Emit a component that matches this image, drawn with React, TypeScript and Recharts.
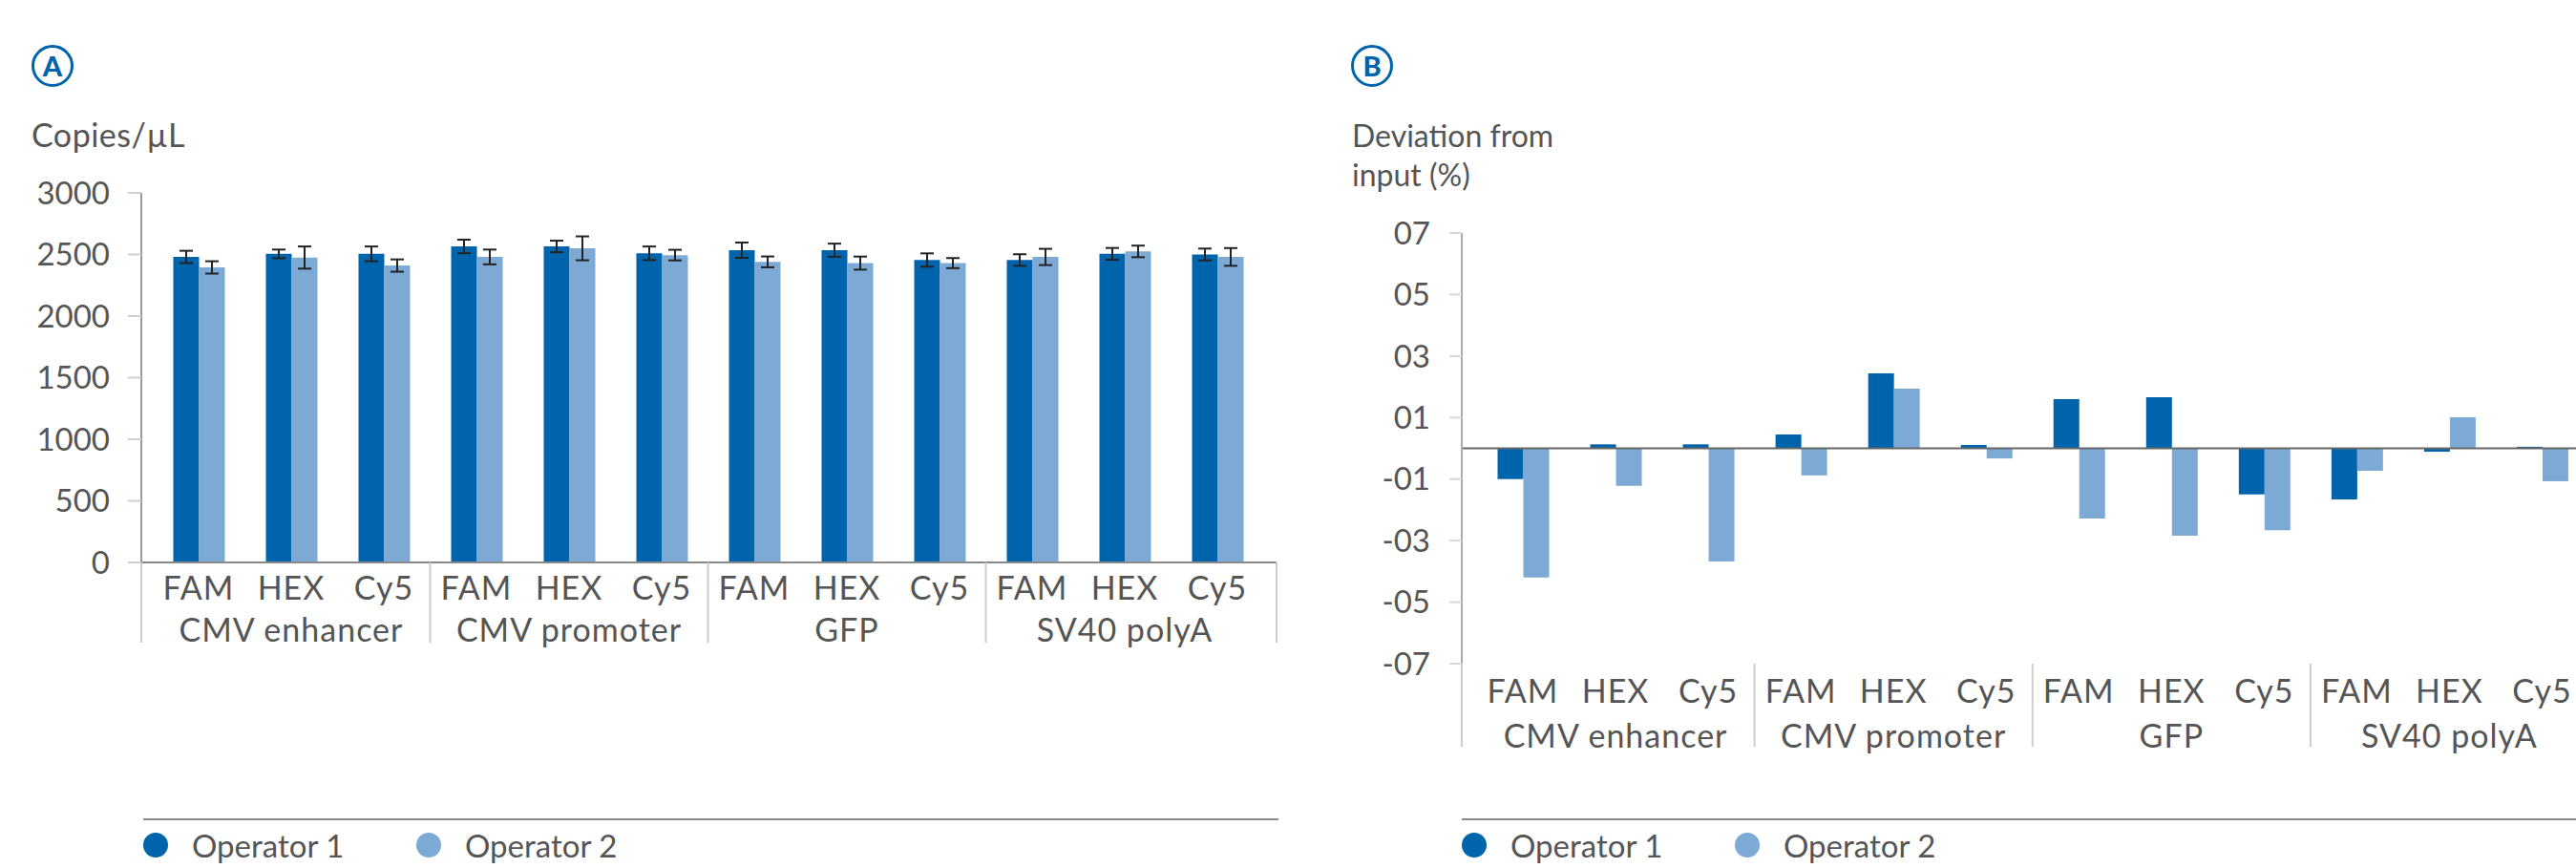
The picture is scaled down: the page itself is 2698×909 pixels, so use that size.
import { BarChart, Bar, XAxis, YAxis, ErrorBar, ReferenceLine } from "recharts";

// categories
const dyes = ["FAM", "HEX", "Cy5", "FAM", "HEX", "Cy5", "FAM", "HEX", "Cy5", "FAM", "HEX", "Cy5"];
const targets = ["CMV enhancer", "CMV promoter", "GFP", "SV40 polyA"];

// panel A: copies/uL with SD
const copiesOp1 = [2480, 2505, 2505, 2565, 2565, 2510, 2535, 2535, 2455, 2455, 2505, 2500];
const copiesOp2 = [2395, 2475, 2410, 2480, 2550, 2495, 2440, 2430, 2430, 2480, 2525, 2480];
const copiesErr1 = [50, 35, 60, 55, 47, 55, 62, 53, 54, 47, 48, 48];
const copiesErr2 = [50, 90, 50, 60, 97, 43, 44, 53, 41, 66, 47, 72];
const copiesTicks = [0, 500, 1000, 1500, 2000, 2500, 3000];

// panel B: deviation from input (%)
const devOp1 = [-1.0, 0.13, 0.13, 0.45, 2.44, 0.11, 1.6, 1.66, -1.5, -1.66, -0.11, 0.05];
const devOp2 = [-4.2, -1.22, -3.68, -0.88, 1.94, -0.33, -2.28, -2.84, -2.66, -0.73, 1.01, -1.07];
const devTicks = [-7, -5, -3, -1, 1, 3, 5, 7];

const legendNames = ["Operator 1", "Operator 2"];

const DARK = "#0064AC";
const LIGHT = "#7DAAD5";
const TEXT = "#555555";

const copiesData = dyes.map((dye, i) => ({
    key: `${targets[Math.floor(i / 3)]}-${dye}`,
    dye,
    op1: copiesOp1[i],
    op2: copiesOp2[i],
    err1: copiesErr1[i],
    err2: copiesErr2[i],
}));

const devData = dyes.map((dye, i) => ({
    key: `${targets[Math.floor(i / 3)]}-${dye}`,
    dye,
    op1: devOp1[i],
    op2: devOp2[i],
}));

const fmtDev = (v: number) => (v < 0 ? "-" : "") + "0" + Math.abs(v);

const labelStyle = { letterSpacing: "1px" };

function GroupTick(props: any) {
    const { x, y, payload, index, padLeft, padRight, drop, dyeDy, groupDy } = props;
    const half = payload?.offset ?? 48.5;
    const sep = "#cccccc";
    return (
        <g>
            <text x={x} y={y + dyeDy} textAnchor="middle" fill={TEXT} fontSize={34} style={labelStyle}>
                {dyes[index]}
            </text>
            {index % 3 === 1 && (
                <text x={x} y={y + groupDy} textAnchor="middle" fill={TEXT} fontSize={34} style={labelStyle}>
                    {targets[Math.floor(index / 3)]}
                </text>
            )}
            {index % 3 === 2 && index < dyes.length - 1 && (
                <line x1={x + half} x2={x + half} y1={y} y2={y + drop} stroke={sep} strokeWidth={2} />
            )}
            {index === 0 && (
                <line x1={x - half - padLeft} x2={x - half - padLeft} y1={y} y2={y + drop} stroke={sep} strokeWidth={2} />
            )}
            {index === dyes.length - 1 && (
                <line x1={x + half + padRight} x2={x + half + padRight} y1={y} y2={y + drop} stroke={sep} strokeWidth={2} />
            )}
        </g>
    );
}

function Badge({ letter, left }: { letter: string; left: number }) {
    return (
        <div
            style={{
                position: "absolute",
                left,
                top: 47,
                width: 44,
                height: 44,
                boxSizing: "border-box",
                border: `3px solid ${DARK}`,
                borderRadius: "50%",
                color: DARK,
                fontWeight: 900,
                fontSize: 29,
                lineHeight: "38px",
                textAlign: "center",
            }}
        >
            {letter}
        </div>
    );
}

function LegendRow({ left, lineWidth, dots }: { left: number; lineWidth: number; dots: number[] }) {
    const colors = [DARK, LIGHT];
    return (
        <>
            <div style={{ position: "absolute", left, top: 857, width: lineWidth, borderTop: "2px solid #888" }} />
            {dots.map((cx, i) => (
                <div key={i}>
                    <div
                        style={{
                            position: "absolute",
                            left: cx - 13,
                            top: 872,
                            width: 26,
                            height: 26,
                            borderRadius: "50%",
                            background: colors[i],
                        }}
                    />
                    <div
                        style={{
                            position: "absolute",
                            left: cx + 38,
                            top: 869,
                            fontSize: 33,
                            lineHeight: "33px",
                            whiteSpace: "nowrap",
                        }}
                    >
                        {legendNames[i]}
                    </div>
                </div>
            ))}
        </>
    );
}

export default function App() {
    return (
        <div
            style={{
                position: "absolute",
                left: 0,
                top: 0,
                width: 2698,
                height: 909,
                overflow: "hidden",
                background: "#fff",
                fontFamily: "Lato, 'Open Sans', sans-serif",
                color: TEXT,
            }}
        >
            <Badge letter="A" left={33} />
            <div style={{ position: "absolute", left: 33, top: 124, fontSize: 34, lineHeight: "34px", letterSpacing: "0.5px" }}>
                Copies/µL
            </div>

            <Badge letter="B" left={1415} />
            <div style={{ position: "absolute", left: 1416, top: 121, fontSize: 32, lineHeight: "41px" }}>
                Deviation from
                <br />
                input (%)
            </div>

            <div style={{ position: "absolute", left: 0, top: 0 }}>
                <BarChart
                    width={1400}
                    height={700}
                    data={copiesData}
                    margin={{ top: 202, right: 63, bottom: 0, left: 0 }}
                    barGap={0}
                >
                    <YAxis
                        width={148}
                        domain={[0, 3000]}
                        ticks={copiesTicks}
                        interval={0}
                        axisLine={{ stroke: "#999", strokeWidth: 2 }}
                        tickLine={{ stroke: "#d0d0d0", strokeWidth: 2 }}
                        tickSize={14}
                        tickMargin={19}
                        tick={{ fill: TEXT, fontSize: 33 }}
                    />
                    <XAxis
                        dataKey="key"
                        height={111}
                        interval={0}
                        padding={{ left: 11.5, right: 13.5 }}
                        axisLine={{ stroke: "#888", strokeWidth: 2 }}
                        tickLine={false}
                        tickSize={0}
                        tickMargin={0}
                        tick={<GroupTick padLeft={11.5} padRight={13.5} drop={84} dyeDy={39} groupDy={83} />}
                    />
                    <Bar dataKey="op1" fill={DARK} barSize={27} isAnimationActive={false}>
                        <ErrorBar dataKey="err1" width={7} stroke="#222" strokeWidth={2} />
                    </Bar>
                    <Bar dataKey="op2" fill={LIGHT} barSize={27} isAnimationActive={false}>
                        <ErrorBar dataKey="err2" width={7} stroke="#222" strokeWidth={2} />
                    </Bar>
                </BarChart>
            </div>

            <div style={{ position: "absolute", left: 1380, top: 0 }}>
                <BarChart
                    width={1331}
                    height={820}
                    data={devData}
                    margin={{ top: 244, right: 0, bottom: 0, left: 0 }}
                    barGap={0}
                >
                    <YAxis
                        width={151}
                        domain={[-7, 7]}
                        ticks={devTicks}
                        interval={0}
                        tickFormatter={fmtDev}
                        axisLine={{ stroke: "#aaa", strokeWidth: 2 }}
                        tickLine={{ stroke: "#d8d8d8", strokeWidth: 2 }}
                        tickSize={13}
                        tickMargin={20}
                        tick={{ fill: TEXT, fontSize: 33 }}
                    />
                    <XAxis
                        dataKey="key"
                        height={125}
                        interval={0}
                        padding={{ left: 15.5, right: 0 }}
                        axisLine={false}
                        tickLine={false}
                        tickSize={0}
                        tickMargin={0}
                        tick={<GroupTick padLeft={15.5} padRight={0} drop={87} dyeDy={41} groupDy={88} />}
                    />
                    <ReferenceLine y={0} stroke="#666" strokeWidth={2} />
                    <Bar dataKey="op1" fill={DARK} barSize={27} isAnimationActive={false} />
                    <Bar dataKey="op2" fill={LIGHT} barSize={27} isAnimationActive={false} />
                </BarChart>
            </div>

            <LegendRow left={150} lineWidth={1189} dots={[163, 449]} />
            <LegendRow left={1531} lineWidth={1167} dots={[1544, 1830]} />
        </div>
    );
}
